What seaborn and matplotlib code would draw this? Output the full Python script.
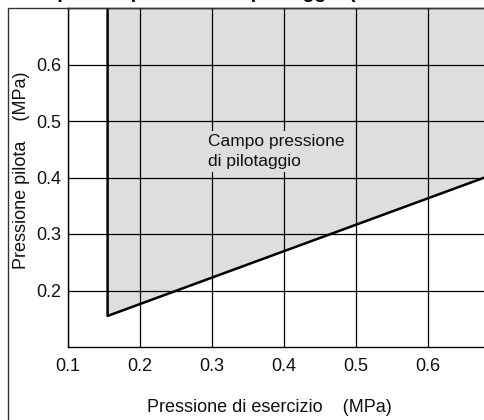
import matplotlib
matplotlib.use("Agg")
import matplotlib.pyplot as plt
import seaborn as sns
import pandas as pd
from matplotlib.patches import Rectangle

# Data
operating_pressure = [0.155, 0.155, 0.70]   # MPa (x)
pilot_pressure = [0.70, 0.155, 0.41]        # MPa (y)
x_ticks = [0.1, 0.2, 0.3, 0.4, 0.5, 0.6]
y_ticks = [0.2, 0.3, 0.4, 0.5, 0.6]
title_text = "Campo di pressione pilota e pressione di pilotaggio (Modello con bobina singola)"
x_label = "Pressione di esercizio    (MPa)"
y_label = "Pressione pilota    (MPa)"
region_label = "Campo pressione\ndi pilotaggio"

sns.set_theme(style="white")
plt.rcParams["font.family"] = ["Liberation Sans", "DejaVu Sans"]

FS = 13
W, H = 484, 420
fig = plt.figure(figsize=(W / 100, H / 100), dpi=100)

# axes: left at x=68px, top at y=8px, bottom at y=347px, 720 px per 1 MPa on x
ax_left = 68 / W
ax_bottom = (H - 347) / H
ax_height = (347 - 8) / H
ax_width = 432 / W
ax = fig.add_axes([ax_left, ax_bottom, ax_width, ax_height])

df = pd.DataFrame({"op": operating_pressure, "pilot": pilot_pressure})

# filled region (boundary closed along the top of the plot)
ax.fill(df["op"].tolist() + [operating_pressure[-1]],
        df["pilot"].tolist() + [pilot_pressure[0]],
        color="#dedede", zorder=0, lw=0)

ax.set_xlim(0.1, 0.7)
ax.set_ylim(0.1, 0.7)
ax.set_xticks(x_ticks)
ax.set_yticks(y_ticks)
ax.set_xticklabels([f"{v:.1f}" for v in x_ticks], fontsize=FS, color="#111111")
ax.set_yticklabels([f"{v:.1f}" for v in y_ticks], fontsize=FS, color="#111111")
ax.tick_params(axis="x", length=0, pad=8)
ax.tick_params(axis="y", length=0, pad=5)

ax.grid(True, color="black", lw=0.9, zorder=1)
ax.set_axisbelow(False)

sns.lineplot(data=df, x="op", y="pilot", sort=False, estimator=None,
             color="black", lw=1.8, ax=ax, zorder=3)

ax.set_xlabel("")
ax.set_ylabel("")
for s in ax.spines.values():
    s.set_color("black")
    s.set_linewidth(1.0)

ax.text(0.294, 0.446, region_label, fontsize=12.5, color="#111111",
        va="center", ha="left", linespacing=1.35, zorder=4,
        bbox=dict(boxstyle="square,pad=0.2", fc="#dedede", ec="none"))

# axis labels
fig.text(269 / W, 1 - 408 / H, x_label, ha="center", va="center", fontsize=FS, color="#111111")
fig.text(22 / W, 1 - 170 / H, y_label, ha="center", va="center", rotation=90,
         fontsize=FS, color="#111111")

# outer frame
fig.patches.append(Rectangle((8 / W, -0.1), 1.2, 1 - 8 / H + 0.1, transform=fig.transFigure,
                             fill=False, ec="#333333", lw=1.0, zorder=10))

# title (cut off at the top as in the reference)
fig.text(0.5, 1 + 2 / H, title_text, ha="center", va="baseline",
         fontsize=14, fontweight="bold", color="black")

fig.savefig("out.png", dpi=100)
